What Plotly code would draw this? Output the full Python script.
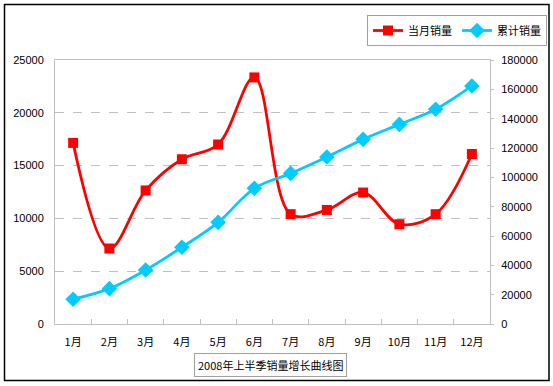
import plotly.graph_objects as go

months = ["1月", "2月", "3月", "4月", "5月", "6月", "7月", "8月", "9月", "10月", "11月", "12月"]
monthly_sales = [17150, 7150, 12650, 15600, 17000, 23350, 10400, 10800, 12450, 9450, 10400, 16100]
cumulative_sales = [16900, 24100, 36800, 52300, 69300, 92500, 102700, 113900, 125900, 136100, 146400, 162300]
left_ticks = [0, 5000, 10000, 15000, 20000, 25000]
right_ticks = [0, 20000, 40000, 60000, 80000, 100000, 120000, 140000, 160000, 180000]
title_text = "2008年上半季销量增长曲线图"

W, H = 553, 386
L, R, T, B = 55, 490, 60, 324

def px(x):
    return (x - L) / (R - L)

def py(y):
    return (B - y) / (B - T)

cjk = "Noto Sans CJK SC"
lat = "Liberation Sans, Arial"

fig = go.Figure()
fig.add_trace(go.Scatter(
    x=months, y=monthly_sales, name="当月销量", mode="lines+markers",
    line=dict(color="#FF0000", width=2.8, shape="spline", smoothing=1.0),
    marker=dict(symbol="square", size=10, color="#FF0000"),
    yaxis="y"))
fig.add_trace(go.Scatter(
    x=months, y=cumulative_sales, name="累计销量", mode="lines+markers",
    line=dict(color="#00CCFF", width=2.8, shape="spline", smoothing=1.0),
    marker=dict(symbol="diamond", size=12, color="#00CCFF"),
    yaxis="y2"))

fig.update_layout(
    width=W, height=H,
    margin=dict(l=L, r=W - R, t=T, b=H - B, pad=0, autoexpand=False),
    paper_bgcolor="white", plot_bgcolor="white",
    showlegend=True,
    legend=dict(orientation="h", x=px(547), xanchor="right", y=py(15), yanchor="top",
                bordercolor="#A0A0A0", borderwidth=1, bgcolor="white",
                font=dict(family=cjk, size=11, color="black"),
                itemwidth=30, tracegroupgap=0),
    xaxis=dict(type="category", showgrid=False, showline=True, linecolor="#C0C0C0",
               linewidth=1, mirror=True, ticks="inside", tickson="boundaries",
               ticklen=5, tickcolor="#C0C0C0",
               tickfont=dict(family=cjk, size=11, color="black"),
               ticklabelstandoff=8, range=[-0.5, 11.5], zeroline=False),
    yaxis=dict(range=[0, 25000], tickvals=left_ticks, ticktext=[str(v) for v in left_ticks],
               showgrid=True, gridcolor="#C0C0C0", griddash="dash", gridwidth=1,
               showline=True, linecolor="#C0C0C0", mirror=True, zeroline=False,
               ticks="", tickfont=dict(family=lat, size=11, color="black"),
               ticklabelstandoff=8),
    yaxis2=dict(range=[0, 180000], tickvals=right_ticks, ticktext=[str(v) for v in right_ticks],
                overlaying="y", side="right", showgrid=False, zeroline=False,
                ticks="outside", ticklen=3, tickcolor="#C0C0C0",
                tickfont=dict(family=lat, size=11, color="black"),
                ticklabelstandoff=5),
    shapes=[dict(type="rect", xref="paper", yref="paper",
                 x0=px(4.5), x1=px(549), y0=py(380.5), y1=py(4.5),
                 line=dict(color="black", width=1.5), fillcolor="rgba(0,0,0,0)", layer="below")],
    annotations=[dict(text=title_text, xref="paper", yref="paper",
                      x=px(270), y=py(365), xanchor="center", yanchor="middle",
                      showarrow=False, font=dict(family=cjk, size=11, color="black"),
                      bordercolor="#A0A0A0", borderwidth=1, borderpad=3, bgcolor="white")],
)

fig.write_html("out.html", config={"displayModeBar": False},
               post_script="document.body.style.margin='0';")
